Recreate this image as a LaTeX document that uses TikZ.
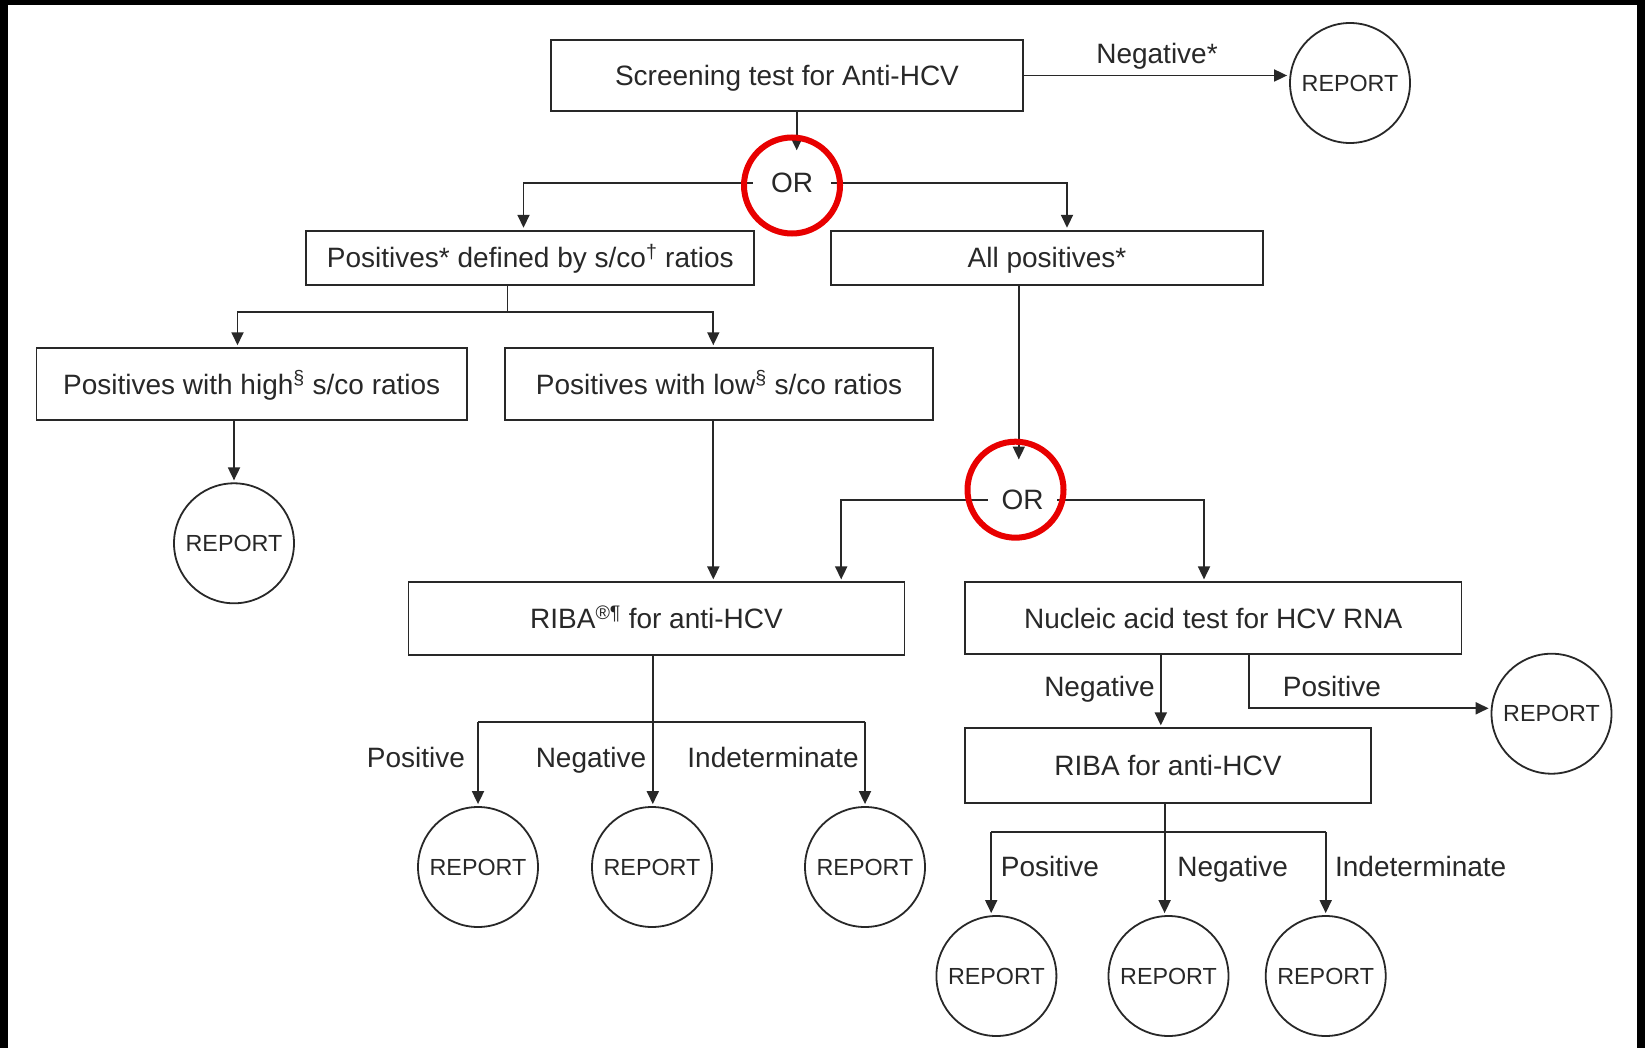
\documentclass[tikz,border=0pt]{standalone}
\usepackage{fontspec}
\setmainfont{Liberation Sans}
\usetikzlibrary{arrows.meta,calc}
\definecolor{ink}{RGB}{40,40,40}
\definecolor{orred}{RGB}{232,0,0}
\newcommand\fsmain{\fontsize{28}{32}\selectfont}
\newcommand\fsrep{\fontsize{23.3}{26}\selectfont}
\begin{document}
\begin{tikzpicture}[x=1pt,y=-1pt,
  box/.style={draw=ink,line width=1.8pt,rectangle,inner sep=0pt,font=\fsmain,text=ink,text height=20pt,text depth=0pt},
  rep/.style={draw=ink,circle,line width=1.8pt,minimum size=120pt,inner sep=0pt,font=\fsrep,text=ink},
  lab/.style={font=\fsmain,text=ink,inner sep=0pt,anchor=base},
  ortext/.style={font=\fsmain,text=ink,inner sep=0pt},
  orring/.style={draw=orred,line width=6pt,circle,minimum size=96pt,inner sep=0pt},
  ln/.style={draw=ink,line width=1.8pt},
  arr/.style={ln,-{Triangle[length=13pt,width=12pt]},shorten >=2pt},
]
\fill[black] (0,0) rectangle (1645,1048);
\fill[white] (7.5,5) rectangle (1637,1048);
\useasboundingbox (0,0) rectangle (1645,1048);

% nodes
\node[box,minimum width=472pt,minimum height=71pt] (scr) at (787,75.5) {Screening test for Anti-HCV};
\node[rep] (r0) at (1350,83) {REPORT};
\node[lab] (neg0) at (1157,63.3) {Negative*};
\node[ortext,minimum width=78pt,minimum height=61pt] (or1) at (792,183) {OR};
\node[box,minimum width=448pt,minimum height=54.6pt] (pa) at (530.3,258) {Positives* defined by s/co\textsuperscript{†} ratios};
\node[box,minimum width=432pt,minimum height=54.6pt] (pb) at (1047,258) {All positives*};
\node[box,minimum width=430.3pt,minimum height=71.7pt] (ph) at (251.7,384) {Positives with high\textsuperscript{§} s/co ratios};
\node[box,minimum width=428.5pt,minimum height=71.7pt] (pl) at (719,384) {Positives with low\textsuperscript{§} s/co ratios};
\node[rep] (r1) at (234,543.3) {REPORT};
\node[ortext,minimum width=69pt,minimum height=76.6pt] (or2) at (1022.5,500) {OR};
\node[box,minimum width=496pt,minimum height=72.3pt] (riba) at (656.5,618.5) {RIBA\textsuperscript{®¶} for anti-HCV};
\node[box,minimum width=496.5pt,minimum height=72pt] (nat) at (1213.2,618.3) {Nucleic acid test for HCV RNA};
\node[rep] (r2) at (1551.5,713.7) {REPORT};
\node[box,minimum width=406.3pt,minimum height=74.4pt] (riba2) at (1168,765.5) {RIBA for anti-HCV};
\node[rep] (r3) at (478,867) {REPORT};
\node[rep] (r4) at (652,867) {REPORT};
\node[rep] (r5) at (865,867) {REPORT};
\node[rep] (r6) at (996.4,976) {REPORT};
\node[rep] (r7) at (1168.5,976) {REPORT};
\node[rep] (r8) at (1325.7,976) {REPORT};

% labels
\node[lab] (l1) at (1099.5,696.7) {Negative};
\node[lab] (l2) at (1332,696.7) {Positive};
\node[lab] (l3) at (416,767.3) {Positive};
\node[lab] (l4) at (591,767.3) {Negative};
\node[lab] (l5) at (773,767.3) {Indeterminate};
\node[lab] (l6) at (1050,876.7) {Positive};
\node[lab] (l7) at (1232.6,876.7) {Negative};
\node[lab] (l8) at (1420.7,876.7) {Indeterminate};

% connectors
\draw[arr] (scr.east) -- (scr.east -| r0.west);
\draw[arr] ([xshift=9.7pt]scr.south) -- ([xshift=4.7pt]or1.north);
\draw[arr] (or1.west) -| ([xshift=-6.8pt]pa.north);
\draw[arr] (or1.east) -| ([xshift=20pt]pb.north);

\coordinate (j1) at (507.5,312);
\draw[ln] ([xshift=-22.8pt]pa.south) -- (j1);
\draw[arr] (j1) -| ([xshift=-14.2pt]ph.north);
\draw[arr] (j1) -| ([xshift=-5.7pt]pl.north);

\draw[arr] (r1.north |- ph.south) -- (r1.north);
\draw[arr] ([xshift=-5.7pt]pl.south) -- ([xshift=56.8pt]riba.north);

\draw[arr] ([xshift=-28.2pt]pb.south) -- ([xshift=-3.7pt]or2.north);
\draw[arr] (or2.west) -| ([xshift=184.7pt]riba.north);
\draw[arr] (or2.east) -| ([xshift=-9.2pt]nat.north);

\coordinate (j2) at (652.8,721.7);
\draw[ln] ([xshift=-3.7pt]riba.south) -- (j2);
\draw[ln] (j2 -| r3.north) -- (j2 -| r5.north);
\draw[arr] (j2 -| r3.north) -- (r3.north);
\draw[arr] (j2) -- (j2 |- r4.north);
\draw[arr] (j2 -| r5.north) -- (r5.north);

\draw[arr] ([xshift=-52.4pt]nat.south) -- ([xshift=-52.4pt]nat.south |- riba2.north);
\coordinate (k1) at (1249,708.3);
\draw[arr] ([xshift=35.8pt]nat.south) -- (k1) -- (k1 -| r2.west);

\coordinate (j3) at (1164.6,832.3);
\coordinate (c6) at ([xshift=-5.2pt]r6.north);
\coordinate (c7) at ([xshift=-3.9pt]r7.north);
\draw[ln] ([xshift=-3.4pt]riba2.south) -- (j3);
\draw[ln] (j3 -| c6) -- (j3 -| r8.north);
\draw[arr] (j3 -| c6) -- (c6);
\draw[arr] (j3) -- (c7);
\draw[arr] (j3 -| r8.north) -- (r8.north);

% red rings
\node[orring] (or1c) at (792,185.5) {};
\node[orring] (or2c) at (1015.5,489.7) {};
\end{tikzpicture}
\end{document}
